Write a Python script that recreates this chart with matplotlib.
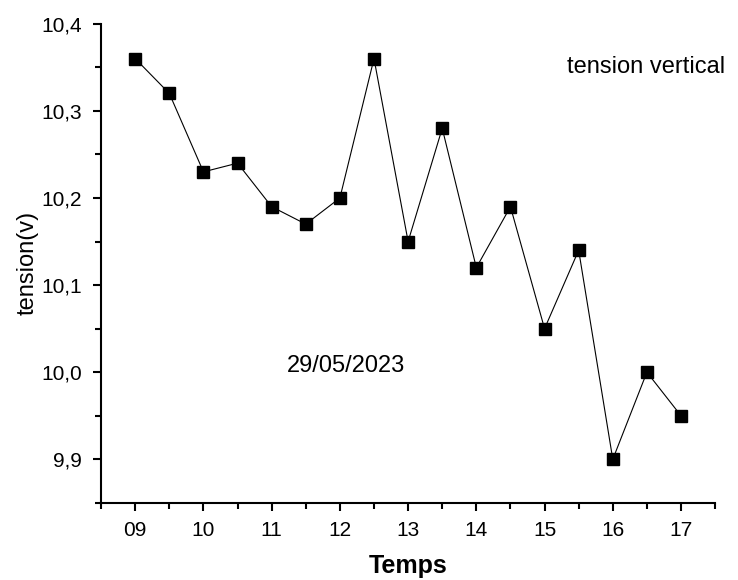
import matplotlib
matplotlib.use("Agg")
import matplotlib.pyplot as plt
from matplotlib.ticker import FuncFormatter, MultipleLocator

plt.rcParams['font.family'] = ['Liberation Sans', 'DejaVu Sans']

heures = [9, 9.5, 10, 10.5, 11, 11.5, 12, 12.5, 13, 13.5, 14, 14.5, 15, 15.5, 16, 16.5, 17]
tension = [10.36, 10.32, 10.23, 10.24, 10.19, 10.17, 10.20, 10.36, 10.15, 10.28,
           10.12, 10.19, 10.05, 10.14, 9.90, 10.00, 9.95]
xticks = [9, 10, 11, 12, 13, 14, 15, 16, 17]
xticklabels = ['09', '10', '11', '12', '13', '14', '15', '16', '17']

fig = plt.figure(figsize=(7.38, 5.80), dpi=100)
ax = fig.add_axes([0.137, 0.133, 0.832, 0.826])

ax.plot(heures, tension, color='black', linewidth=0.8, marker='s',
        markersize=8.5, markerfacecolor='black', markeredgecolor='black')

ax.set_xlim(8.5, 17.5)
ax.set_ylim(9.85, 10.4)
ax.set_xticks(xticks)
ax.set_xticklabels(xticklabels)
ax.xaxis.set_minor_locator(MultipleLocator(0.5))
ax.yaxis.set_major_locator(MultipleLocator(0.1))
ax.yaxis.set_minor_locator(MultipleLocator(0.05))
ax.yaxis.set_major_formatter(FuncFormatter(lambda v, p: f"{v:.1f}".replace('.', ',')))

for s in ['top', 'right']:
    ax.spines[s].set_visible(False)
for s in ['left', 'bottom']:
    ax.spines[s].set_linewidth(1.5)

ax.tick_params(which='major', direction='out', length=6, width=1.5, labelsize=15)
ax.tick_params(axis='y', which='major', pad=8)
ax.tick_params(axis='x', which='major', pad=7)
ax.tick_params(which='minor', direction='out', length=4, width=1.5)

ax.set_xlabel('Temps', fontsize=18, fontweight='bold', labelpad=10)
ax.set_ylabel('tension(v)', fontsize=17, labelpad=2)

ax.text(0.303, 0.273, '29/05/2023', transform=ax.transAxes, fontsize=17, va='baseline')
ax.text(0.759, 0.898, 'tension vertical', transform=ax.transAxes, fontsize=17, va='baseline')

fig.savefig('out.png', dpi=100)
